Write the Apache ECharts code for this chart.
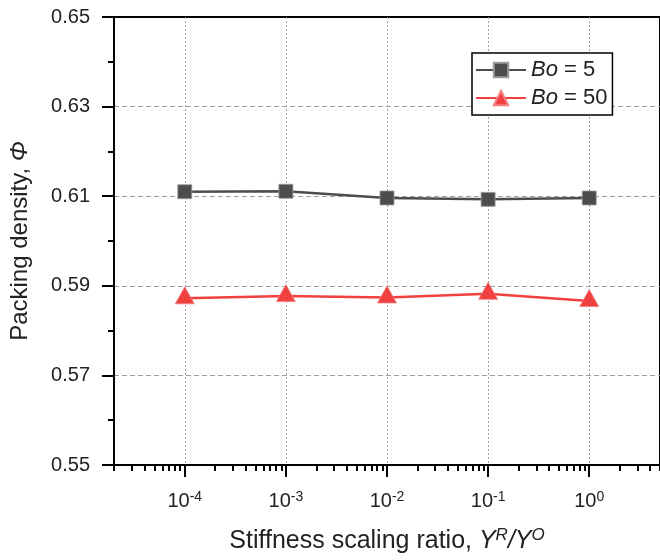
<!DOCTYPE html>
<html>
<head>
<meta charset="utf-8">
<script src="https://cdn.jsdelivr.net/npm/echarts@6/dist/echarts.min.js"></script>
<style>
html,body{margin:0;padding:0;background:#fff;}
#c{width:660px;height:560px;}
</style>
</head>
<body>
<div id="c"></div>
<script>
// ---- data ----
const ratios = [1e-4, 1e-3, 1e-2, 1e-1, 1];
const bo5 = [0.6110, 0.6111, 0.6096, 0.6093, 0.6096];
const bo50 = [0.5872, 0.5877, 0.5874, 0.5882, 0.5866];
const seriesNames = ['Bo = 5', 'Bo = 50'];
const yMajorTicks = [0.55, 0.57, 0.59, 0.61, 0.63, 0.65];
const yMinorTicks = [0.56, 0.58, 0.60, 0.62, 0.64];
const xMajorExps = [-4, -3, -2, -1, 0];
const xMinorMults = [2, 3, 4, 5, 6, 7, 8, 9];
const xMinorDecades = [-5, -4, -3, -2, -1, 0];

const FONT = 'Liberation Sans, Arial, sans-serif';
const TXT = '#222';
const xMinLog = -4.7, xMaxLog = 0.7;

const xMinorLogs = [];
xMinorDecades.forEach(d => xMinorMults.forEach(m => {
  const v = Math.log10(m) + d;
  if (v > xMinLog && v < xMaxLog) xMinorLogs.push(+v.toFixed(5));
}));

const toPts = arr => arr.map((v, i) => [Math.log10(ratios[i]), v]);
const gridLineStyle = {color: '#a0a0a0', width: 1, type: [5, 3]};

const chart = echarts.init(document.getElementById('c'), null, {renderer: 'canvas'});
chart.setOption({
  animation: false,
  backgroundColor: '#fff',
  grid: {left: 114, top: 17, right: -3, bottom: 95, show: true, borderColor: '#000', borderWidth: 2, backgroundColor: 'transparent'},
  legend: {
    left: 472, top: 53, orient: 'vertical',
    padding: [6, 5, 6, 3],
    itemWidth: 50, itemHeight: 18, itemGap: 6,
    borderColor: '#000', borderWidth: 1.5, backgroundColor: '#fff',
    data: seriesNames,
    formatter: n => n.replace('Bo', '{i|Bo}'),
    textStyle: {fontFamily: FONT, fontSize: 22, color: TXT, lineHeight: 20,
      rich: {i: {fontFamily: FONT, fontSize: 22, fontStyle: 'italic', color: TXT, lineHeight: 20}}}
  },
  xAxis: [{
    type: 'value', min: xMinLog, max: xMaxLog, position: 'bottom',
    axisLine: {show: true, onZero: false, lineStyle: {color: '#000', width: 2}},
    axisTick: {show: true, inside: false, length: 12, lineStyle: {color: '#000', width: 2}, customValues: xMajorExps},
    axisLabel: {show: true, margin: 25, customValues: xMajorExps,
      formatter: v => '{b|10}{s|' + Math.round(v) + '}',
      rich: {
        b: {fontFamily: FONT, fontSize: 20, color: TXT, lineHeight: 22},
        s: {fontFamily: FONT, fontSize: 14, color: TXT, lineHeight: 14, verticalAlign: 'top'}
      }},
    splitLine: {show: true, lineStyle: {color: '#a0a0a0', width: 1, type: [2, 2]}},
    name: '{n|Stiffness scaling ratio, }{i|Y}{is|R}{i|/Y}{is|O}',
    nameLocation: 'middle', nameGap: 62,
    nameTextStyle: {rich: {
      n: {fontFamily: FONT, fontSize: 25, color: TXT, lineHeight: 28},
      i: {fontFamily: FONT, fontSize: 25, fontStyle: 'italic', color: TXT, lineHeight: 28},
      is: {fontFamily: FONT, fontSize: 17, fontStyle: 'italic', color: TXT, lineHeight: 17, verticalAlign: 'top'}
    }}
  }, {
    type: 'value', min: xMinLog, max: xMaxLog, position: 'bottom',
    axisLine: {show: false, onZero: false},
    axisTick: {show: true, inside: false, length: 6, lineStyle: {color: '#000', width: 2}, customValues: xMinorLogs},
    axisLabel: {show: false},
    splitLine: {show: false}
  }],
  yAxis: [{
    type: 'value', min: 0.55, max: 0.65, interval: 0.01, position: 'left',
    axisLine: {show: true, onZero: false, lineStyle: {color: '#000', width: 2}},
    axisTick: {show: true, inside: false, length: 12, lineStyle: {color: '#000', width: 2}, customValues: yMajorTicks},
    axisLabel: {show: true, margin: 24, customValues: yMajorTicks,
      formatter: v => v.toFixed(2),
      fontFamily: FONT, fontSize: 20, color: TXT},
    splitLine: {show: false},
    name: '{n|Packing density, }{i|Φ}',
    nameLocation: 'middle', nameGap: 82, nameRotate: 90,
    nameTextStyle: {rich: {
      n: {fontFamily: FONT, fontSize: 24, color: TXT},
      i: {fontFamily: FONT, fontSize: 24, fontStyle: 'italic', color: TXT}
    }}
  }, {
    type: 'value', min: 0.55, max: 0.65, position: 'left',
    axisLine: {show: false, onZero: false},
    axisTick: {show: true, inside: false, length: 6, lineStyle: {color: '#000', width: 2}, customValues: yMinorTicks},
    axisLabel: {show: false},
    splitLine: {show: false}
  }],
  series: [{
    name: seriesNames[0], type: 'line', xAxisIndex: 0, yAxisIndex: 0,
    data: toPts(bo5),
    symbol: 'rect', symbolSize: 14,
    lineStyle: {color: '#4d4d4d', width: 2.5},
    itemStyle: {color: '#4d4d4d', borderColor: '#9a9a9a', borderWidth: 0.8},
    markLine: {
      silent: true, symbol: 'none', label: {show: false}, animation: false,
      lineStyle: gridLineStyle, z: 0,
      data: yMajorTicks.slice(1, -1).map(v => ({yAxis: v}))
    },
    z: 3
  }, {
    name: seriesNames[1], type: 'line', xAxisIndex: 0, yAxisIndex: 0,
    data: toPts(bo50),
    symbol: 'triangle', symbolSize: [19, 17], symbolOffset: [0, -3],
    lineStyle: {color: '#f04040', width: 2.5},
    itemStyle: {color: '#f04040', borderColor: '#f48080', borderWidth: 0.8},
    z: 3
  }]
});
</script>
</body>
</html>
